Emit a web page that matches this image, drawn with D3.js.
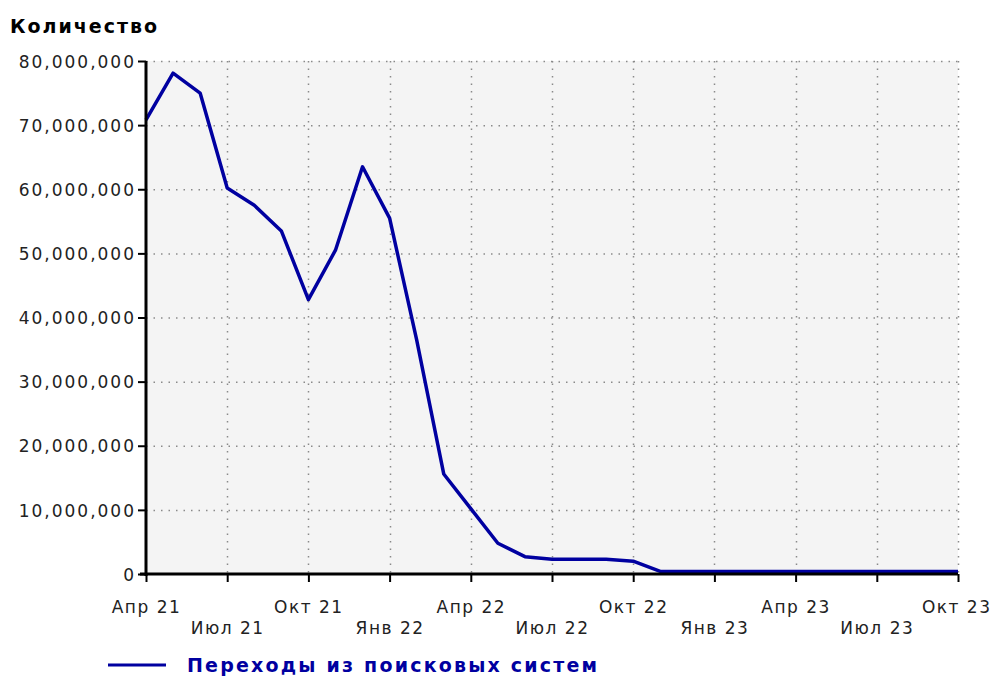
<!DOCTYPE html>
<html>
<head>
<meta charset="utf-8">
<script src="https://cdn.jsdelivr.net/npm/d3@7"></script>
<style>
  body { margin: 0; background: #fff; }
  svg text { font-family: "DejaVu Sans", sans-serif; }
</style>
</head>
<body>
<svg id="chart" width="993" height="682"></svg>
<script>
const months = ["Апр 21", "Май 21", "Июн 21", "Июл 21", "Авг 21", "Сен 21", "Окт 21", "Ноя 21", "Дек 21",
  "Янв 22", "Фев 22", "Мар 22", "Апр 22", "Май 22", "Июн 22", "Июл 22", "Авг 22", "Сен 22", "Окт 22",
  "Ноя 22", "Дек 22", "Янв 23", "Фев 23", "Мар 23", "Апр 23", "Май 23", "Июн 23", "Июл 23", "Авг 23",
  "Сен 23", "Окт 23"];
// visits from search engines, millions
const visits = [70.8, 78.1, 75.0, 60.2, 57.5, 53.5, 42.8, 50.5, 63.5,
  55.5, 36.5, 15.6, 10.2, 4.8, 2.7, 2.3, 2.3, 2.3, 2.0,
  0.4, 0.4, 0.4, 0.4, 0.4, 0.4, 0.4, 0.4, 0.4, 0.4,
  0.4, 0.4];
const yTicks = [0, 10, 20, 30, 40, 50, 60, 70, 80];
const xTickIdx = [0, 3, 6, 9, 12, 15, 18, 21, 24, 27, 30];
const yTitle = "Количество";
const seriesName = "Переходы из поисковых систем";

const margin = { top: 61, right: 35, bottom: 108, left: 146 },
      width = 993 - margin.left - margin.right,
      height = 682 - margin.top - margin.bottom;
const lineColor = "#0000a0";

const svg = d3.select("#chart");
const g = svg.append("g").attr("transform", `translate(${margin.left},${margin.top})`);

const x = d3.scaleLinear().domain([0, months.length - 1]).range([0, width]);
const y = d3.scaleLinear().domain([0, 80]).range([height, 0]);

// plot background
g.append("rect")
  .attr("width", width).attr("height", height)
  .attr("fill", "#f4f4f4");

// grid
g.append("g").selectAll("line")
  .data(yTicks.slice(1))
  .join("line")
  .attr("x1", 0).attr("x2", width)
  .attr("y1", d => y(d) + 0.5).attr("y2", d => y(d) + 0.5)
  .attr("stroke", "#8a8a8a").attr("stroke-width", 1.5).attr("stroke-dasharray", "1.5,6");

g.append("g").selectAll("line")
  .data(xTickIdx.slice(1))
  .join("line")
  .attr("x1", d => Math.round(x(d)) + 0.5).attr("x2", d => Math.round(x(d)) + 0.5)
  .attr("y1", 0).attr("y2", height)
  .attr("stroke", "#8a8a8a").attr("stroke-width", 1.5).attr("stroke-dasharray", "1.5,6");

// series
const line = d3.line()
  .x((d, i) => x(i))
  .y(d => y(d));

g.append("path")
  .datum(visits)
  .attr("fill", "none")
  .attr("stroke", lineColor)
  .attr("stroke-width", 3.5)
  .attr("stroke-linejoin", "round")
  .attr("d", line);

// y axis
const yAxis = g.append("g")
  .call(d3.axisLeft(y).tickValues(yTicks).tickSize(8).tickPadding(2)
    .tickFormat(d => d3.format(",")(d * 1e6)));
yAxis.select(".domain").remove();
yAxis.selectAll("line").attr("stroke", "#000").attr("stroke-width", 2);
yAxis.selectAll("text")
  .attr("fill", "#222")
  .style("font-size", "17px")
  .style("letter-spacing", "2px")
  .attr("dy", "0.36em");

// x axis
const xAxis = g.append("g")
  .attr("transform", `translate(0,${height})`)
  .call(d3.axisBottom(x).tickValues(xTickIdx).tickSize(8).tickPadding(8)
    .tickFormat(i => months[i]));
xAxis.select(".domain").remove();
xAxis.selectAll("line").attr("stroke", "#000").attr("stroke-width", 2);
xAxis.selectAll("text")
  .attr("fill", "#222")
  .style("font-size", "17px")
  .style("letter-spacing", "1.5px")
  .attr("dy", 0)
  .attr("y", (d, i) => i % 2 === 0 ? 39 : 60);
// keep the last label inside the window
xAxis.selectAll("text").filter((d, i, n) => i === n.length - 1)
  .attr("text-anchor", "end").attr("x", 33);

// axis lines
g.append("line")
  .attr("x1", 0).attr("x2", 0).attr("y1", 0).attr("y2", height + 2)
  .attr("stroke", "#000").attr("stroke-width", 3);
g.append("line")
  .attr("x1", -6).attr("x2", width).attr("y1", height).attr("y2", height)
  .attr("stroke", "#000").attr("stroke-width", 3);

// title
svg.append("text")
  .attr("x", 10).attr("y", 33)
  .style("font-size", "19px")
  .style("font-weight", "bold")
  .style("letter-spacing", "2px")
  .attr("fill", "#000")
  .text(yTitle);

// legend
svg.append("line")
  .attr("x1", 108).attr("x2", 166).attr("y1", 665).attr("y2", 665)
  .attr("stroke", lineColor).attr("stroke-width", 3);
svg.append("text")
  .attr("x", 187).attr("y", 672)
  .style("font-size", "19px")
  .style("font-weight", "bold")
  .style("letter-spacing", "2.2px")
  .attr("fill", lineColor)
  .text(seriesName);
</script>
</body>
</html>
